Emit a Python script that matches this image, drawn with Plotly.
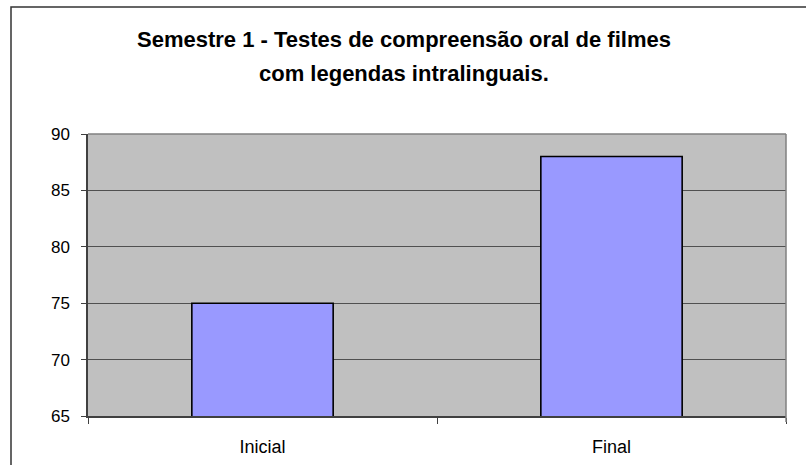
import plotly.graph_objects as go

categories = ["Inicial", "Final"]
values = [75, 88]
y_ticks = [65, 70, 75, 80, 85, 90]
title_lines = ["Semestre 1 - Testes de compreensão oral de filmes",
               "com legendas intralinguais."]

W, H = 806, 465
L, R, T, B = 88, 20, 134, 49
pw, ph = W - L - R, H - T - B

def px_x(x):
    return (x - L) / pw

def px_y(y):
    return (H - B - y) / ph

fig = go.Figure(go.Bar(
    x=categories, y=values,
    marker=dict(color="#9999FF", line=dict(color="#000000", width=1.6)),
    width=0.405,
))

fig.update_layout(
    width=W, height=H,
    margin=dict(l=L, r=R, t=T, b=B, autoexpand=False),
    paper_bgcolor="white", plot_bgcolor="#C0C0C0",
    showlegend=False,
    font=dict(family="Liberation Sans, Arial, sans-serif", color="#000000"),
)

fig.update_xaxes(
    showline=True, linecolor="#404040", linewidth=1.5,
    ticks="outside", tickson="boundaries", ticklen=6, tickcolor="#404040",
    tickfont=dict(size=18), ticklabelstandoff=14,
    showgrid=False,
)
fig.update_yaxes(
    range=[65, 90], tickvals=y_ticks,
    showline=True, linecolor="#404040", linewidth=1.5,
    ticks="outside", ticklen=5, tickcolor="#404040",
    tickfont=dict(size=17), ticklabelstandoff=8,
    showgrid=True, gridcolor="#505050", gridwidth=1,
    zeroline=False,
)

shapes = [
    # top and right plot border (gray)
    dict(type="line", xref="paper", yref="paper", x0=0, x1=1, y0=1, y1=1,
         line=dict(color="#808080", width=1.5)),
    dict(type="line", xref="paper", yref="paper", x0=1, x1=1, y0=px_y(422), y1=1,
         line=dict(color="#808080", width=1.5)),
    # outer chart frame
    dict(type="rect", xref="paper", yref="paper",
         x0=px_x(11), x1=px_x(830), y0=px_y(490), y1=px_y(7),
         line=dict(color="#333333", width=1.5), fillcolor="rgba(0,0,0,0)"),
]
fig.update_layout(shapes=shapes)

fig.add_annotation(text="<b>" + title_lines[0] + "</b>", xref="paper", yref="paper",
                   x=px_x(404), y=px_y(54), yanchor="bottom", showarrow=False,
                   font=dict(size=22, family="Liberation Sans, Arial, sans-serif"))
fig.add_annotation(text="<b>" + title_lines[1] + "</b>", xref="paper", yref="paper",
                   x=px_x(404), y=px_y(88), yanchor="bottom", showarrow=False,
                   font=dict(size=22, family="Liberation Sans, Arial, sans-serif"))

fig.write_html("out.html", config={"displayModeBar": False},
               post_script="document.body.style.margin='0';document.body.style.overflow='hidden';")
